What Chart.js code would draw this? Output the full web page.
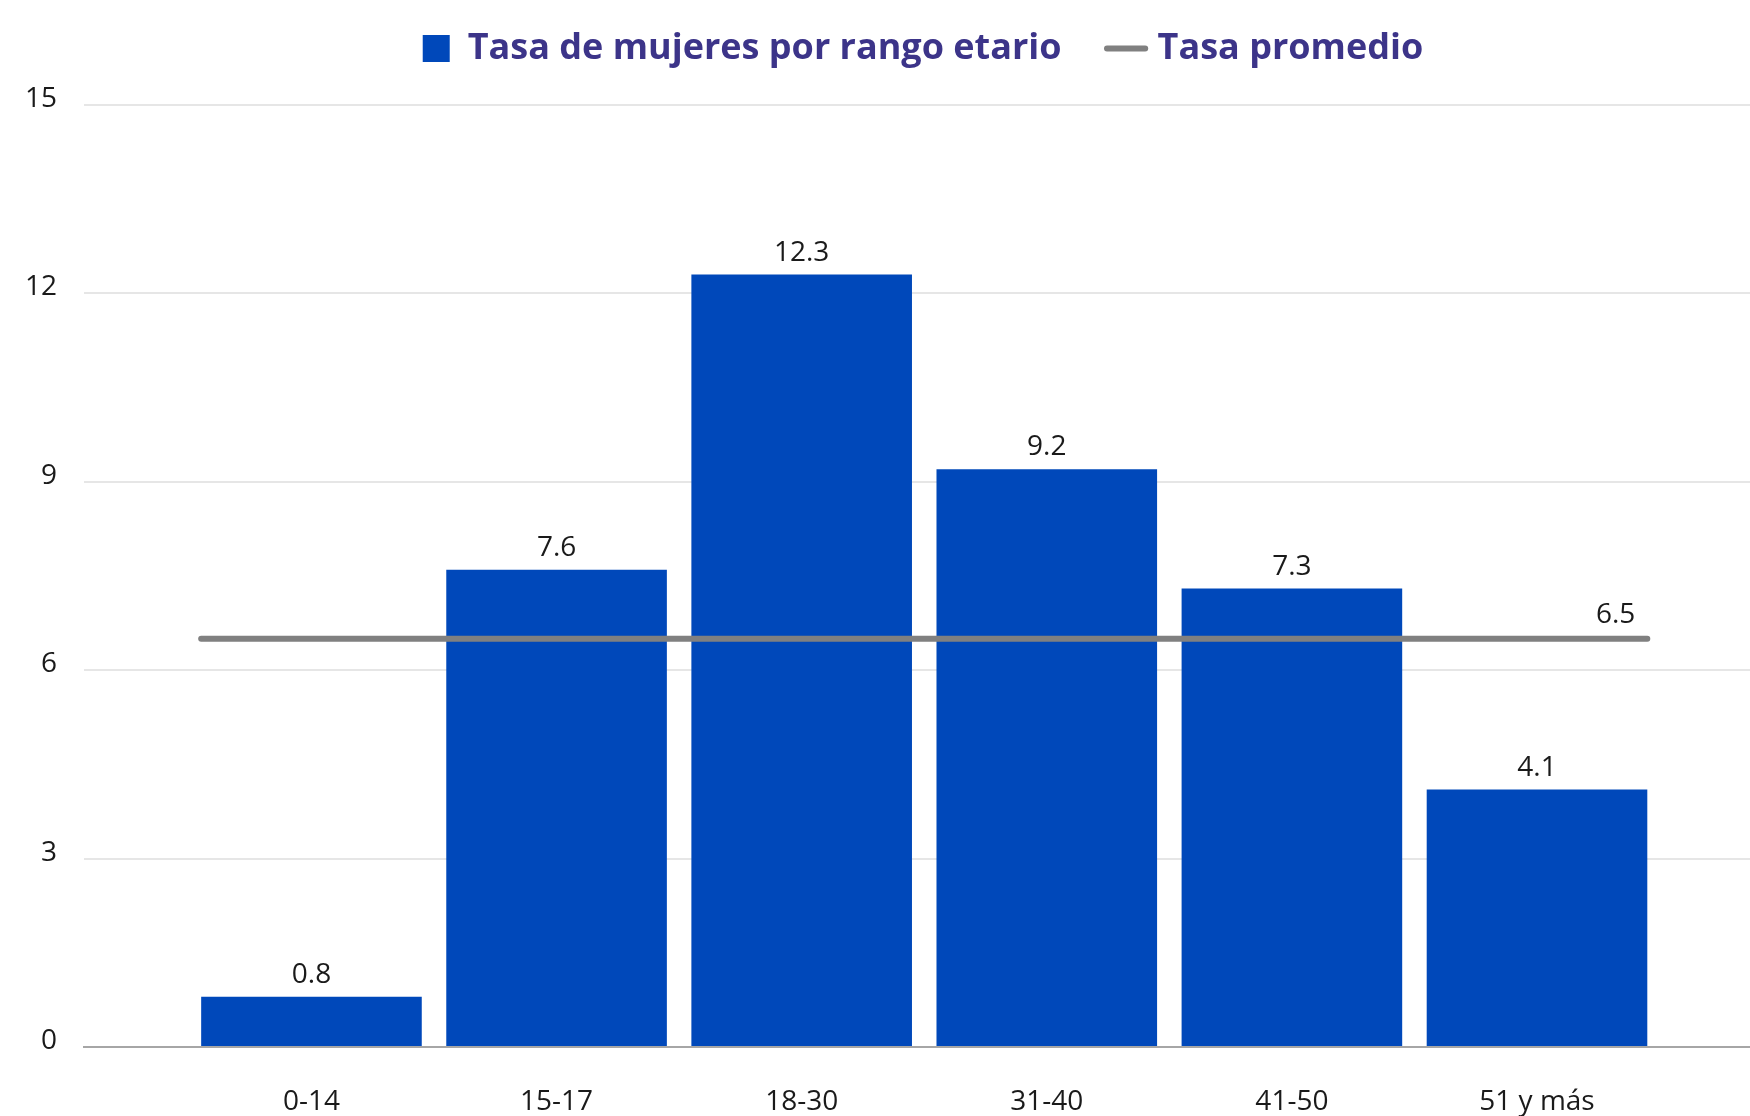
<!DOCTYPE html>
<html>
<head>
<meta charset="utf-8">
<script src="https://cdn.jsdelivr.net/npm/chart.js@4/dist/chart.umd.min.js"></script>
<style>
html, body { margin: 0; padding: 0; background: #ffffff; }
#wrap { width: 1750px; height: 1116px; position: relative; }
</style>
</head>
<body>
<div id="wrap"><canvas id="c"></canvas></div>
<script>
// ---- data ----
const categories = ['0-14', '15-17', '18-30', '31-40', '41-50', '51 y más'];
const rates = [0.8, 7.6, 12.3, 9.2, 7.3, 4.1];
const averageRate = 6.5;
const yTickValues = [0, 3, 6, 9, 12, 15];
const seriesNames = ['Tasa de mujeres por rango etario', 'Tasa promedio'];

// ---- styles ----
const BAR_COLOR = '#0048BA';
const LINE_COLOR = '#808080';
const LEGEND_COLOR = '#3C3489';
const TEXT_COLOR = '#1a1a1a';
const LEGEND_PAD = 51;
const LEGEND_FONT = 36;
const LEGEND_X_SHIFT = 6;
const HALF_BAR = 0.45;

const layoutTweaks = {
  id: 'layoutTweaks',
  beforeLayout(chart) {
    const lg = chart.legend;
    if (lg && !lg.__wrapped) {
      const orig = lg.fit;
      lg.fit = function () { orig.call(this); this.height = 105; };
      lg.__wrapped = true;
    }
  },
  afterLayout(chart) {
    const lg = chart.legend;
    if (!lg) return;
    const shift = 48.5 - LEGEND_PAD - LEGEND_FONT / 2 - lg.top;
    lg.top += shift;
    lg.bottom += shift;
    lg.left += LEGEND_X_SHIFT;
    lg.right += LEGEND_X_SHIFT;
  }
};

const valueLabels = {
  id: 'valueLabels',
  afterDatasetsDraw(chart) {
    const ctx = chart.ctx;
    ctx.save();
    ctx.font = "28px 'Open Sans'";
    ctx.fillStyle = TEXT_COLOR;
    ctx.textBaseline = 'alphabetic';
    ctx.textAlign = 'center';
    const barMeta = chart.getDatasetMeta(0);
    barMeta.data.forEach((el, i) => {
      ctx.fillText(rates[i].toFixed(1), el.x, el.y - 14);
    });
    const lineMeta = chart.getDatasetMeta(1);
    const last = lineMeta.data[lineMeta.data.length - 1];
    ctx.textAlign = 'right';
    ctx.fillText(averageRate.toFixed(1), last.x - 12, last.y - 16);
    ctx.restore();
  }
};

Chart.defaults.font.family = "'Open Sans', sans-serif";

new Chart(document.getElementById('c'), {
  data: {
    datasets: [
      {
        type: 'bar',
        label: seriesNames[0],
        data: rates.map((v, i) => ({ x: i, y: v })),
        backgroundColor: BAR_COLOR,
        borderWidth: 0,
        barPercentage: 0.9,
        categoryPercentage: 1.0,
        order: 1
      },
      {
        type: 'line',
        label: seriesNames[1],
        data: [
          { x: -HALF_BAR, y: averageRate },
          { x: categories.length - 1 + HALF_BAR, y: averageRate }
        ],
        borderColor: LINE_COLOR,
        backgroundColor: LINE_COLOR,
        borderWidth: 6,
        borderCapStyle: 'round',
        pointRadius: 0,
        pointHoverRadius: 0,
        fill: false,
        order: 0
      }
    ]
  },
  options: {
    responsive: true,
    maintainAspectRatio: false,
    animation: false,
    layout: { padding: 0 },
    plugins: {
      tooltip: { enabled: false },
      legend: {
        position: 'top',
        align: 'center',
        fullSize: false,
        labels: {
          usePointStyle: true,
          boxWidth: 27,
          boxHeight: 27,
          padding: LEGEND_PAD,
          color: LEGEND_COLOR,
          font: { family: "'Open Sans'", size: LEGEND_FONT, weight: 'bold' },
          sort: (a, b) => a.datasetIndex - b.datasetIndex,
          generateLabels(chart) {
            const items = Chart.defaults.plugins.legend.labels.generateLabels(chart);
            items.forEach(it => {
              if (it.datasetIndex === 0) {
                it.pointStyle = 'rect';
                it.fillStyle = BAR_COLOR;
                it.strokeStyle = BAR_COLOR;
                it.lineWidth = 0;
              } else {
                it.pointStyle = 'line';
                it.fillStyle = LINE_COLOR;
                it.strokeStyle = LINE_COLOR;
                it.lineWidth = 6;
                it.lineCap = 'round';
              }
              it.fontColor = LEGEND_COLOR;
            });
            return items;
          }
        }
      }
    },
    scales: {
      x: {
        type: 'linear',
        offset: false,
        min: -0.928,
        max: 5.869,
        afterBuildTicks: s => { s.ticks = categories.map((c, i) => ({ value: i })); },
        afterFit: s => { s.height = 69; },
        ticks: {
          callback: v => categories[Math.round(v)] ?? '',
          padding: 38,
          autoSkip: false,
          maxRotation: 0,
          color: TEXT_COLOR,
          font: { size: 28 }
        },
        grid: { display: false, drawTicks: false, offset: false },
        border: { display: true, color: '#A6A6A6', width: 2 }
      },
      y: {
        min: 0,
        max: 15,
        afterBuildTicks: s => { s.ticks = yTickValues.map(v => ({ value: v })); },
        ticks: {
          padding: 27,
          labelOffset: -6,
          color: TEXT_COLOR,
          font: { size: 28 }
        },
        grid: { color: '#E6E6E6', lineWidth: 2, drawTicks: false },
        border: { display: false },
        afterFit: s => { s.width = 84; }
      }
    }
  },
  plugins: [layoutTweaks, valueLabels]
});
</script>
</body>
</html>
